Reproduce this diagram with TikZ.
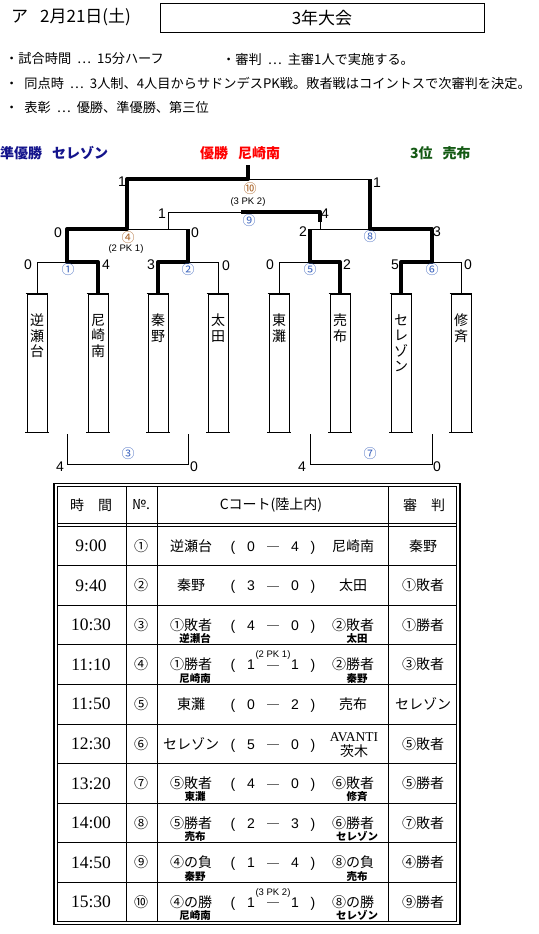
\documentclass[tikz,border=0pt]{standalone}
\usepackage{fontspec}
\setmainfont{Liberation Serif}
\newfontfamily\jp{Noto Sans CJK JP}
\newfontfamily\lsans{Liberation Sans}
\newfontfamily\lserif{Liberation Serif}
\newcommand\fs[1]{\fontsize{#1}{#1}\selectfont}
\newcommand\gp{\hspace{6pt}}
\definecolor{navyt}{RGB}{20,20,140}
\definecolor{redt}{RGB}{255,0,0}
\definecolor{greent}{RGB}{20,90,20}
\definecolor{circb}{RGB}{60,100,190}
\definecolor{circbr}{RGB}{170,100,40}
\begin{document}
\begin{tikzpicture}[x=1pt,y=-1pt,
  lnA/.style={line width=0.9pt},
  lnB/.style={line width=4pt, line join=round},
  lbl/.style={font=\lsans\fs{14}, inner sep=0},
  cnum/.style={font=\jp\fs{13}, inner sep=0, text=circb},
  cnumo/.style={cnum, text=circbr},
  pk/.style={font=\lsans\fs{9.5}, inner sep=0},
  tbox/.style={draw, line width=0.9pt, minimum width=20pt, minimum height=138pt, inner sep=0},
  ttext/.style={anchor=north, align=center, font=\jp\fontsize{14}{15.5}\selectfont, inner sep=0},
  jtx/.style={font=\jp\fs{14}, inner sep=0},
  jtb/.style={font=\jp\fs{14}, inner sep=0, anchor=base},
  subt/.style={font=\jp\bfseries\fs{10.5}, inner sep=0},
  tmt/.style={font=\lserif\fs{17.5}, inner sep=0},
  scr/.style={font=\lsans\fs{14}, inner sep=0, anchor=base},
  bul/.style={anchor=west, font=\jp\fs{13.2}, inner sep=0},
  ttl/.style={anchor=west, font=\jp\bfseries\fs{14}, inner sep=0},
]
\fill[white] (0,0) rectangle (538,934);
\useasboundingbox (0,0) rectangle (538,934);

% ---------- header ----------
\node[anchor=west, font=\jp\fs{17}, inner sep=0] (hdate) at (11,17) {ア\hspace{12pt}2月21日(土)};
\node[draw, line width=1pt, minimum width=324pt, minimum height=29pt, inner sep=0, font=\jp\fs{17}] (htitle) at (322,18) {3年大会};

\node[bul] (l1a) at (5,59) {・試合時間\gp…\gp 15分ハーフ};
\node[bul] (l1b) at (222,59) {・審判\gp…\gp 主審1人で実施する。};
\node[bul] (l2) at (5,83) {・\gp 同点時\gp…\gp 3人制、4人目からサドンデスPK戦。敗者戦はコイントスで次審判を決定。};
\node[bul] (l3) at (5,107) {・\gp 表彰\gp…\gp 優勝、準優勝、第三位};

% ---------- titles ----------
\node[ttl, text=navyt] (ttl1) at (0,153) {準優勝\hspace{10pt}セレゾン};
\node[ttl, text=redt] (ttl2) at (200,153) {優勝\hspace{10pt}尼崎南};
\node[ttl, text=greent] (ttl3) at (410,153) {3位\hspace{10pt}売布};

% ---------- team boxes ----------
\node[tbox] (b1) at (37,363) {};
\node[tbox] (b2) at (98,363) {};
\node[tbox] (b3) at (158,363) {};
\node[tbox] (b4) at (218,363) {};
\node[tbox] (b5) at (279,363) {};
\node[tbox] (b6) at (340,363) {};
\node[tbox] (b7) at (401,363) {};
\node[tbox] (b8) at (461,363) {};
\foreach \k in {1,...,8}{
  \draw[lnA] ([xshift=-1.5pt]b\k.south west) -- ([xshift=1.5pt]b\k.south east);
  \draw[lnA] ([xshift=-1pt]b\k.north west) -- ([xshift=1pt]b\k.north east);
}
\node[ttext] (n1) at (37,314) {逆\\瀬\\台};
\node[ttext] (n2) at (98,314) {尼\\崎\\南};
\node[ttext] (n3) at (158,314) {秦\\野};
\node[ttext] (n4) at (218,314) {太\\田};
\node[ttext] (n5) at (279,314) {東\\灘};
\node[ttext] (n6) at (340,314) {売\\布};
\node[ttext] (n7) at (401,314) {セ\\レ\\ゾ\\ン};
\node[ttext] (n8) at (461,314) {修\\斉};

% ---------- bracket coordinates ----------
\coordinate (c1) at (67,262);
\coordinate (c2) at (188,262);
\coordinate (c5) at (310,262);
\coordinate (c6) at (432,262);
\coordinate (c4) at (127,229);
\coordinate (c8) at (370,229);
\coordinate (c10) at (248,179);
\coordinate (win) at (248,165);
\coordinate (c9l) at (168,229);
\coordinate (c9m) at (241,212);
\coordinate (c9d) at (320,222);
\coordinate (c9e) at (320,229);
\coordinate (c3l) at (67,434);
\coordinate (c3r) at (188,434);
\coordinate (c7l) at (310,434);
\coordinate (c7r) at (432,434);

% thin lines
\draw[lnA] (b1.north) |- (c1);
\draw[lnA] (b4.north) |- (c2);
\draw[lnA] (b5.north) |- (c5);
\draw[lnA] (b8.north) |- (c6);
\draw[lnA] (c4) -- (c2 |- c4);
\draw[lnA] (c5 |- c8) -- (c8);
\draw[lnA] (c10) -- (c8 |- c10);
\draw[lnA] (c9l) |- (c9m);
\draw[lnA] (c9d) -- (c9e);
\draw[lnA] (c3l) -- ++(0,30) -| (c3r);
\draw[lnA] (c7l) -- ++(0,30) -| (c7r);

% thick (winner) lines
\draw[lnB] (b2.north) |- (c1) |- (c4) |- (c10) -- (win);
\draw[lnB] (b3.north) |- (c2) -- (c2 |- c4);
\draw[lnB] (b6.north) |- (c5) -- (c5 |- c8);
\draw[lnB] (b7.north) |- (c6) |- (c8) |- (c10 -| c8);
\draw[lnB] (c9m) -| (c9d);

% scores on bracket
\node[lbl] (s10a) at (122,182) {1};
\node[lbl] (s10b) at (377,183) {1};
\node[lbl] (s9a) at (162,214) {1};
\node[lbl] (s9b) at (325,214) {4};
\node[lbl] (s4a) at (58,233) {0};
\node[lbl] (s4b) at (195,233) {0};
\node[lbl] (s8a) at (303,232) {2};
\node[lbl] (s8b) at (437,232) {3};
\node[lbl] (s1a) at (28,265) {0};
\node[lbl] (s1b) at (106,265) {4};
\node[lbl] (s2a) at (151,265) {3};
\node[lbl] (s2b) at (226,266) {0};
\node[lbl] (s5a) at (270,265) {0};
\node[lbl] (s5b) at (347,265) {2};
\node[lbl] (s6a) at (395,265) {5};
\node[lbl] (s6b) at (468,265) {0};
\node[lbl] (s3a) at (60,467) {4};
\node[lbl] (s3b) at (194,467) {0};
\node[lbl] (s7a) at (302,467) {4};
\node[lbl] (s7b) at (437,467) {0};

% match numbers on bracket
\node[cnumo] (m10) at (250,189) {⑩};
\node[pk] (pk10b) at (248,202) {(3 PK 2)};
\node[cnum] (m9) at (249,221) {⑨};
\node[cnumo] (m4) at (128,238) {④};
\node[pk] (pk4b) at (126,249) {(2 PK 1)};
\node[cnum] (m8) at (370,237) {⑧};
\node[cnum] (m1) at (68,270) {①};
\node[cnum] (m2) at (188,270) {②};
\node[cnum] (m5) at (310,270) {⑤};
\node[cnum] (m6) at (432,270) {⑥};
\node[cnum] (m3) at (128,454) {③};
\node[cnum] (m7) at (370,454) {⑦};

% ---------- table ----------
\draw[line width=1.8pt] (54,483.5) rectangle (460,924.5);
\draw[lnA] (57.5,486.5) rectangle (456.5,921.5);
\foreach \yy in {523,526,565.6,605.2,644.8,684.4,724,763.6,803.2,842.8,882.4}
  \draw[lnA] (57.5,\yy) -- (456.5,\yy);
\foreach \xx in {126,157,388}
  \draw[lnA] (\xx,486.5) -- (\xx,921.5);

\node[jtx] (h1) at (91,505) {時　間};
\node[jtx] (h2) at (141,505) {№.};
\node[jtx] (h3) at (271,505) {Cコート(陸上内)};
\node[jtx] (h4) at (424,505) {審　判};

\foreach \i/\tm/\no/\la/\ls/\sa/\sb/\ra/\rs/\rf in {
 1/9:00/①/逆瀬台/{}/0/4/尼崎南/{}/秦野,
 2/9:40/②/秦野/{}/3/0/太田/{}/①敗者,
 3/10:30/③/①敗者/逆瀬台/4/0/②敗者/太田/①勝者,
 4/11:10/④/①勝者/尼崎南/1/1/②勝者/秦野/③敗者,
 5/11:50/⑤/東灘/{}/0/2/売布/{}/セレゾン,
 6/12:30/⑥/セレゾン/{}/5/0/{}/{}/⑤敗者,
 7/13:20/⑦/⑤敗者/東灘/4/0/⑥敗者/修斉/⑤勝者,
 8/14:00/⑧/⑤勝者/売布/2/3/⑥勝者/セレゾン/⑦敗者,
 9/14:50/⑨/④の負/秦野/1/4/⑧の負/売布/④勝者,
 10/15:30/⑩/④の勝/尼崎南/1/1/⑧の勝/セレゾン/⑨勝者}{
  \pgfmathsetmacro\cy{545.8+39.6*(\i-1)}
  \pgfmathsetmacro\by{\cy+5.2}
  \node[tmt] (tm\i) at (91,\cy) {\tm};
  \node[jtb] (no\i) at (141,\by) {\no};
  \node[jtb] (la\i) at (191,\by) {\la};
  \node[subt] (ls\i) at (195,\cy+13.5) {\ls};
  \node[scr] (pa\i) at (233,\by) {(};
  \node[scr] (sa\i) at (251,\by) {\sa};
  \node[jtb] (ds\i) at (273,\by+1.5) {―};
  \node[scr] (sb\i) at (295,\by) {\sb};
  \node[scr] (pb\i) at (313,\by) {)};
  \node[jtb] (ra\i) at (353,\by) {\ra};
  \node[subt] (rs\i) at (357,\cy+13.5) {\rs};
  \node[jtb] (rf\i) at (423,\by) {\rf};
}
\node[font=\lserif\fs{13.5}, inner sep=0] (avanti) at (354,737) {AVANTI};
\node[jtx] (ibaraki) at (354,751.5) {茨木};
\node[pk] (pk4) at (273,655) {(2 PK 1)};
\node[pk] (pk10) at (273,893) {(3 PK 2)};
\end{tikzpicture}
\end{document}
